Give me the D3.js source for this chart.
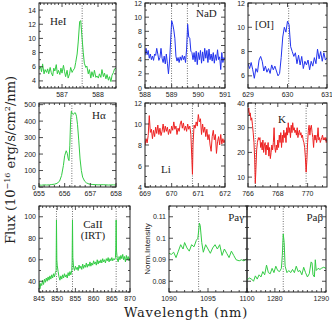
<!DOCTYPE html>
<html><head><meta charset="utf-8">
<script src="https://cdn.jsdelivr.net/npm/d3@7"></script>
<style>body{margin:0;background:#fff}svg{display:block}</style>
</head><body>
<script>
// ---------- DATA ----------
const heiWl = [586.36,586.40,586.43,586.46,586.50,586.53,586.57,586.60,586.63,586.67,586.70,586.74,586.77,586.80,586.84,586.87,586.90,586.94,586.97,587.00,587.04,587.07,587.10,587.14,587.17,587.21,587.24,587.28,587.31,587.35,587.38,587.42,587.45,587.49,587.52,587.55,587.59,587.62,587.66,587.69,587.73,587.76,587.80,587.83,587.87,587.90,587.94,587.97,588.01,588.04,588.08,588.11,588.15,588.18,588.22,588.25,588.29,588.32,588.36,588.39,588.43,588.46,588.50];
const heiFlux = [5.6,6.0,5.3,6.4,5.0,5.6,5.2,5.7,5.0,5.9,5.2,4.7,5.8,5.4,6.3,5.0,5.5,4.9,5.8,5.1,6.2,5.3,4.6,5.5,4.4,5.0,5.9,5.2,5.5,5.8,6.6,7.8,9.5,12.4,12.5,10.5,8.0,6.5,5.9,6.1,5.0,5.6,4.4,5.3,4.6,5.5,4.5,4.7,4.4,5.0,4.5,5.6,4.6,5.1,4.3,4.9,4.1,4.6,3.9,4.8,5.2,5.7,5.8];

const nadWl = [588.00,588.04,588.08,588.12,588.16,588.20,588.24,588.28,588.32,588.36,588.40,588.44,588.48,588.52,588.56,588.60,588.64,588.68,588.72,588.76,588.80,588.84,588.88,588.92,588.96,589.00,589.04,589.08,589.12,589.16,589.20,589.24,589.28,589.32,589.36,589.40,589.44,589.48,589.52,589.56,589.60,589.64,589.68,589.72,589.76,589.80,589.84,589.88,589.92,589.96,590.00,590.04,590.08,590.12,590.16,590.20,590.24,590.28,590.32,590.36,590.40,590.44,590.48,590.52,590.56,590.60,590.64,590.68,590.72,590.76,590.80,590.84,590.88,590.92,590.96,591.00];
const nadFlux = [4.6,5.6,4.7,5.3,4.2,4.8,4.0,4.5,3.9,4.8,4.6,5.6,4.8,3.9,4.3,5.6,4.2,3.6,4.5,3.4,4.8,3.5,2.0,3.8,6.5,9.5,9.0,8.2,7.0,4.5,3.8,4.3,3.6,4.4,3.9,4.6,4.0,4.5,3.6,5.5,9.0,7.2,7.0,5.2,5.0,4.0,5.0,3.7,5.2,3.3,5.0,4.0,5.3,3.5,5.1,3.8,5.6,4.2,5.3,3.6,5.5,4.0,4.8,3.8,5.0,3.5,4.7,3.9,5.4,4.0,4.4,2.6,5.0,3.6,4.3,4.0];

const oiWl = [629.00,629.04,629.08,629.12,629.16,629.20,629.24,629.28,629.32,629.36,629.40,629.44,629.48,629.52,629.56,629.60,629.64,629.68,629.72,629.76,629.80,629.84,629.88,629.92,629.96,630.00,630.04,630.08,630.12,630.16,630.20,630.24,630.28,630.32,630.36,630.40,630.44,630.48,630.52,630.56,630.60,630.64,630.68,630.72,630.76,630.80,630.84,630.88,630.92,630.96,631.00];
const oiFlux = [7.0,6.6,7.1,6.5,5.8,6.6,6.3,7.3,7.6,7.2,6.4,6.8,6.3,6.6,6.2,6.9,6.5,6.8,6.4,6.0,6.2,7.5,9.2,10.0,9.6,10.5,10.2,8.4,8.0,7.6,7.9,7.0,7.7,6.9,7.6,6.6,7.2,6.9,7.3,6.5,7.2,6.8,7.5,7.0,8.2,7.4,8.0,7.2,7.9,7.3,7.5];

const haWl = [655.0,655.1,655.2,655.3,655.4,655.5,655.6,655.7,655.8,655.88,655.95,656.0,656.06,656.1,656.14,656.17,656.2,656.23,656.26,656.3,656.34,656.38,656.42,656.46,656.5,656.55,656.6,656.65,656.7,656.78,656.85,656.95,657.1,657.3,657.5,657.7,657.9,658.0];
const haFlux = [12,11,13,12,13,15,17,22,35,70,130,190,220,205,170,160,250,400,460,445,440,450,450,430,380,280,170,100,60,35,25,18,15,13,14,12,13,12];

const liWl = [669.00,669.04,669.08,669.12,669.16,669.20,669.24,669.28,669.32,669.36,669.40,669.44,669.48,669.52,669.56,669.60,669.64,669.68,669.72,669.76,669.80,669.84,669.88,669.92,669.96,670.00,670.04,670.08,670.12,670.16,670.20,670.24,670.28,670.32,670.36,670.40,670.44,670.48,670.52,670.56,670.60,670.64,670.68,670.72,670.76,670.78,670.80,670.84,670.88,670.92,670.96,671.00,671.04,671.08,671.12,671.16,671.20,671.24,671.28,671.32,671.36,671.40,671.44,671.48,671.52,671.56,671.60,671.64,671.68,671.72,671.76,671.80,671.84,671.88,671.92,671.96,672.00];
const liFlux = [8.0,8.6,8.2,8.9,10.8,9.2,9.5,8.6,9.4,8.8,9.7,9.1,9.9,9.0,9.6,8.9,9.3,10.0,9.2,9.8,9.3,9.7,9.0,9.5,9.1,9.8,9.4,10.2,9.5,9.8,9.0,9.6,9.3,10.0,10.3,9.6,10.1,9.4,9.8,9.3,10.0,9.5,9.8,9.0,6.5,5.2,8.0,9.9,9.6,10.2,9.8,10.9,10.2,10.5,9.0,10.0,9.2,9.7,8.8,9.5,8.5,9.0,8.0,7.4,8.8,9.4,8.5,9.0,7.2,8.3,8.8,8.0,9.0,8.1,8.6,8.2,8.5];

const kWl = [766.00,766.05,766.10,766.15,766.20,766.25,766.30,766.35,766.40,766.45,766.49,766.53,766.58,766.63,766.70,766.75,766.80,766.85,766.90,766.95,767.00,767.05,767.10,767.15,767.20,767.25,767.30,767.35,767.40,767.45,767.50,767.55,767.60,767.65,767.70,767.75,767.80,767.85,767.90,767.95,768.00,768.05,768.10,768.15,768.20,768.25,768.30,768.35,768.40,768.45,768.50,768.55,768.60,768.65,768.70,768.75,768.80,768.85,768.90,768.95,769.00,769.05,769.10,769.15,769.20,769.25,769.30,769.35,769.40,769.45,769.50,769.55,769.60,769.65,769.70,769.75,769.80,769.85,769.90,769.95,770.00,770.05,770.10,770.15,770.20,770.25,770.30,770.35,770.40,770.45,770.50,770.55,770.60,770.65,770.70,770.75,770.80,770.85,770.90,770.95,771.00,771.05,771.10,771.15,771.20,771.25,771.30];
const kFlux = [36,38,35,36,33,34,31,28,24,17,7.5,13,21,24,26,25,26,22,24,21,25,20,23,24,19,23,21,24,18.5,22,17.5,20,23,21,24,30,22,20,23,21,25,22,27,24,28,22,27,24,29,26,28,24,30,27,32,28,30,26,31,28,32,29,30,28,29,27,30,26,28,29,27,28,26,27,25,24,22,18,12,17,24,29,31,27,30,31,28,26,22,27,25,27,24,26,30,25,26,24,25,26,27,25,26,25,26,24,26];

const caWl = [845.00,845.25,845.50,845.75,846.00,846.25,846.50,846.75,847.00,847.25,847.50,847.75,848.00,848.25,848.50,848.75,849.00,849.25,849.50,849.70,849.80,849.90,850.00,850.25,850.50,850.75,851.00,851.25,851.50,851.75,852.00,852.25,852.50,852.75,853.00,853.25,853.50,853.75,854.00,854.10,854.20,854.30,854.50,854.75,855.00,855.25,855.50,855.75,856.00,856.25,856.50,856.75,857.00,857.25,857.50,857.75,858.00,858.25,858.50,858.75,859.00,859.25,859.50,859.75,860.00,860.25,860.50,860.75,861.00,861.25,861.50,861.75,862.00,862.25,862.50,862.75,863.00,863.25,863.50,863.75,864.00,864.25,864.50,864.75,865.00,865.25,865.50,865.75,866.00,866.10,866.20,866.30,866.50,866.75,867.00,867.25,867.50,867.75,868.00,868.25,868.50,868.75,869.00,869.25,869.50,869.75,870.00];
const caFlux = [40,33,38,36,41,37,42,39,43,40,44,41,45,42,46,43,47,44,48,50,97,60,55,49,44,41,45,42,46,43,47,44,46,43,48,45,49,46,50,58,97,62,53,50,54,51,53,50,55,52,54,51,56,52,55,53,57,53,56,54,58,54,57,55,59,56,58,55,60,56,59,57,60,57,61,58,60,57,61,59,62,58,61,59,62,59,61,60,62,70,97,68,61,58,63,60,64,61,65,60,63,58,64,60,63,59,62];

const pgWl = [1090.0,1090.3,1090.6,1090.9,1091.2,1091.5,1091.8,1092.0,1092.3,1092.6,1092.9,1093.2,1093.5,1093.7,1093.9,1094.0,1094.2,1094.4,1094.7,1095.0,1095.3,1095.6,1095.9,1096.2,1096.5,1096.8,1097.1,1097.4,1097.7,1098.0,1098.3,1098.6,1099.0,1099.3,1099.6,1100.0];
const pgFlux = [0.093,0.0925,0.0935,0.091,0.094,0.097,0.095,0.098,0.0955,0.094,0.097,0.096,0.099,0.100,0.107,0.106,0.098,0.0935,0.097,0.095,0.093,0.0955,0.097,0.095,0.097,0.092,0.095,0.093,0.091,0.094,0.092,0.090,0.0895,0.090,0.0895,0.0905];

const pbWl = [1274.0,1274.5,1275.0,1275.4,1275.8,1276.2,1276.6,1277.0,1277.4,1277.8,1278.2,1278.6,1279.0,1279.4,1279.8,1280.2,1280.6,1281.0,1281.4,1281.6,1281.8,1282.0,1282.2,1282.6,1283.0,1283.4,1283.8,1284.2,1284.6,1285.0,1285.4,1285.8,1286.2,1286.6,1287.0,1287.4,1287.8,1288.0,1288.2,1288.5,1288.7,1288.9,1289.3,1289.7,1290.0,1290.5,1291.0];
const pbFlux = [0.0805,0.0815,0.081,0.080,0.0825,0.081,0.083,0.082,0.0845,0.083,0.0875,0.084,0.0835,0.086,0.084,0.087,0.085,0.0845,0.086,0.092,0.102,0.098,0.087,0.084,0.085,0.084,0.0855,0.084,0.087,0.0845,0.085,0.083,0.0865,0.084,0.082,0.0835,0.089,0.0885,0.083,0.082,0.090,0.085,0.086,0.0855,0.086,0.0865,0.086];

// line-centre markers (nm)
const heiLines = [587.56];
const nadLines = [588.995, 589.59];
const oiLines = [630.03];
const haLines = [656.28];
const liLines = [670.78];
const kLines = [766.49, 769.90];
const caLines = [849.8, 854.2, 866.2];
const pgLines = [1093.8];
const pbLines = [1281.8];

// tick labels
const heiXTicks = [587, 588], heiYTicks = [4, 6, 8, 10, 12, 14];
const nadXTicks = [588, 589, 590, 591], nadYTicks = [0, 2, 4, 6, 8, 10, 12];
const oiXTicks = [629, 630, 631], oiYTicks = [6, 8, 10, 12];
const haXTicks = [655, 656, 657, 658], haYTicks = [0, 100, 200, 300, 400, 500];
const liXTicks = [669, 670, 671, 672], liYTicks = [4, 6, 8, 10, 12];
const kXTicks = [766, 768, 770], kYTicks = [10, 20, 30, 40];
const caXTicks = [845, 850, 855, 860, 865, 870], caYTicks = [40, 60, 80, 100];
const pgXTicks = [1090, 1095, 1100], pgYTicks = [0.08, 0.09, 0.1, 0.11];
const pbXTicks = [1280, 1290];

// ---------- DRAW ----------
const W = 332, H = 325;
const svg = d3.select("body").append("svg").attr("width", W).attr("height", H);
const GREEN = "#33cc44", BLUE = "#2233ee", RED = "#ee2222";

function range(a, b, s) { const r = []; for (let v = a; v <= b + 1e-9; v += s) r.push(+v.toFixed(6)); return r; }

function panel(o) {
  const x = d3.scaleLinear().domain(o.xd).range([o.x0, o.x1]);
  const y = d3.scaleLinear().domain(o.yd).range([o.y1, o.y0]);
  const g = svg.append("g");
  const clipId = "c" + Math.random().toString(36).slice(2);
  g.append("clipPath").attr("id", clipId).append("rect")
    .attr("x", o.x0).attr("y", o.y0).attr("width", o.x1 - o.x0).attr("height", o.y1 - o.y0);
  g.selectAll(".ml").data(o.lines).join("line")
    .attr("x1", d => x(d)).attr("x2", d => x(d)).attr("y1", o.y0).attr("y2", o.y1)
    .attr("stroke", "#333").attr("stroke-width", 0.7).attr("stroke-dasharray", "1,1.5");
  const pts = o.wl.map((w, i) => [w, o.flux[i]]);
  g.append("path").datum(pts).attr("clip-path", `url(#${clipId})`)
    .attr("fill", "none").attr("stroke", o.color).attr("stroke-width", 1)
    .attr("d", d3.line().x(d => x(d[0])).y(d => y(d[1])));
  g.append("rect").attr("x", o.x0).attr("y", o.y0).attr("width", o.x1 - o.x0).attr("height", o.y1 - o.y0)
    .attr("fill", "none").attr("stroke", "#222").attr("stroke-width", 1);
  const xmin = range(Math.ceil(o.xd[0] / o.xm) * o.xm, o.xd[1], o.xm).filter(v => v >= o.xd[0] && v <= o.xd[1]);
  const ymin = range(Math.ceil(o.yd[0] / o.ym) * o.ym, o.yd[1], o.ym).filter(v => v >= o.yd[0] && v <= o.yd[1]);
  const isMaj = (v, arr) => arr.some(t => Math.abs(t - v) < 1e-6);
  const tk = g.append("g").attr("stroke", "#222").attr("stroke-width", 0.8);
  xmin.forEach(v => {
    const L = isMaj(v, o.xt) ? 4 : 2, px = x(v);
    tk.append("line").attr("x1", px).attr("x2", px).attr("y1", o.y1).attr("y2", o.y1 - L);
    tk.append("line").attr("x1", px).attr("x2", px).attr("y1", o.y0).attr("y2", o.y0 + L);
  });
  ymin.forEach(v => {
    const L = isMaj(v, o.yt) ? 4 : 2, py = y(v);
    tk.append("line").attr("y1", py).attr("y2", py).attr("x1", o.x0).attr("x2", o.x0 + L);
    tk.append("line").attr("y1", py).attr("y2", py).attr("x1", o.x1).attr("x2", o.x1 - L);
  });
  g.selectAll(".xl").data(o.xt).join("text")
    .attr("x", d => x(d)).attr("y", o.y1 + 9).attr("text-anchor", "middle")
    .attr("font-family", "Liberation Sans, Arial, sans-serif").attr("font-size", 7).attr("fill", "#222")
    .text(d => d);
  if (o.ytl) {
    g.selectAll(".yl").data(o.yt).join("text")
      .attr("x", o.x0 - 3).attr("y", d => y(d) + 2.5).attr("text-anchor", "end")
      .attr("font-family", "Liberation Sans, Arial, sans-serif").attr("font-size", 7).attr("fill", "#222")
      .text(d => d);
  }
  const lab = g.append("text").attr("x", o.lx).attr("y", o.ly).attr("text-anchor", o.la || "start")
    .attr("font-family", "Liberation Serif, DejaVu Serif, serif").attr("font-size", 11).attr("fill", "#222");
  o.label.forEach((s, i) => {
    lab.append("tspan").attr("x", o.lx).attr("dy", i === 0 ? 0 : 11).text(s);
  });
}

const c1 = [39, 116], c2 = [145, 225], c3 = [248, 327];
const r1 = [3, 88], r2 = [103, 187], r3 = [206, 292];

panel({x0:c1[0],x1:c1[1],y0:r1[0],y1:r1[1],xd:[586.36,588.5],yd:[3,15],xt:heiXTicks,xm:0.1,yt:heiYTicks,ym:1,ytl:true,
  wl:heiWl,flux:heiFlux,color:GREEN,lines:heiLines,label:["HeI"],lx:50,ly:25});
panel({x0:c2[0],x1:c2[1],y0:r1[0],y1:r1[1],xd:[588,591],yd:[0,12],xt:nadXTicks,xm:0.2,yt:nadYTicks,ym:1,ytl:true,
  wl:nadWl,flux:nadFlux,color:BLUE,lines:nadLines,label:["NaD"],lx:196,ly:17});
panel({x0:c3[0],x1:c3[1],y0:r1[0],y1:r1[1],xd:[629,631],yd:[5,12],xt:oiXTicks,xm:0.2,yt:oiYTicks,ym:1,ytl:true,
  wl:oiWl,flux:oiFlux,color:BLUE,lines:oiLines,label:["[OI]"],lx:255,ly:28});
panel({x0:c1[0],x1:c1[1],y0:r2[0],y1:r2[1],xd:[655,658],yd:[0,510],xt:haXTicks,xm:0.2,yt:haYTicks,ym:50,ytl:true,
  wl:haWl,flux:haFlux,color:GREEN,lines:haLines,label:["H\u03b1"],lx:92,ly:119});
panel({x0:c2[0],x1:c2[1],y0:r2[0],y1:r2[1],xd:[669,672],yd:[4,12],xt:liXTicks,xm:0.2,yt:liYTicks,ym:1,ytl:true,
  wl:liWl,flux:liFlux,color:RED,lines:liLines,label:["Li"],lx:161,ly:173});
panel({x0:c3[0],x1:c3[1],y0:r2[0],y1:r2[1],xd:[766,771.3],yd:[6,40],xt:kXTicks,xm:0.5,yt:kYTicks,ym:5,ytl:true,
  wl:kWl,flux:kFlux,color:RED,lines:kLines,label:["K"],lx:278,ly:123});
panel({x0:39,x1:130,y0:r3[0],y1:r3[1],xd:[845,870],yd:[30,110],xt:caXTicks,xm:1,yt:caYTicks,ym:10,ytl:true,
  wl:caWl,flux:caFlux,color:GREEN,lines:caLines,label:["CaII","(IRT)"],lx:93,ly:228,la:"middle"});
panel({x0:169,x1:247,y0:r3[0],y1:r3[1],xd:[1090,1100],yd:[0.075,0.115],xt:pgXTicks,xm:1,yt:pgYTicks,ym:0.005,ytl:true,
  wl:pgWl,flux:pgFlux,color:GREEN,lines:pgLines,label:["Pa\u03b3"],lx:244,ly:221,la:"end"});
panel({x0:247,x1:326,y0:r3[0],y1:r3[1],xd:[1274,1291],yd:[0.075,0.115],xt:pbXTicks,xm:1,yt:pgYTicks,ym:0.005,ytl:false,
  wl:pbWl,flux:pbFlux,color:GREEN,lines:pbLines,label:["Pa\u03b2"],lx:323,ly:221,la:"end"});

// axis titles
const yt = svg.append("text").attr("transform", "translate(15,160) rotate(-90)").attr("text-anchor", "middle")
  .attr("font-family", "DejaVu Serif, serif").attr("font-size", 13).attr("fill", "#222");
yt.append("tspan").text("Flux (10");
yt.append("tspan").attr("dy", -5).attr("font-size", 8).text("\u221216");
yt.append("tspan").attr("dy", 5).text(" erg/s/cm");
yt.append("tspan").attr("dy", -5).attr("font-size", 8).text("2");
yt.append("tspan").attr("dy", 5).text("/nm)");

svg.append("text").attr("x", 186).attr("y", 317).attr("text-anchor", "middle")
  .attr("font-family", "DejaVu Serif, serif").attr("font-size", 13).attr("letter-spacing", 0.8).attr("fill", "#222")
  .text("Wavelength (nm)");

svg.append("text").attr("transform", "translate(150,249) rotate(-90)").attr("text-anchor", "middle")
  .attr("font-family", "Liberation Sans, Arial, sans-serif").attr("font-size", 8).attr("fill", "#222")
  .text("Norm.Intensity");
</script>
</body></html>
